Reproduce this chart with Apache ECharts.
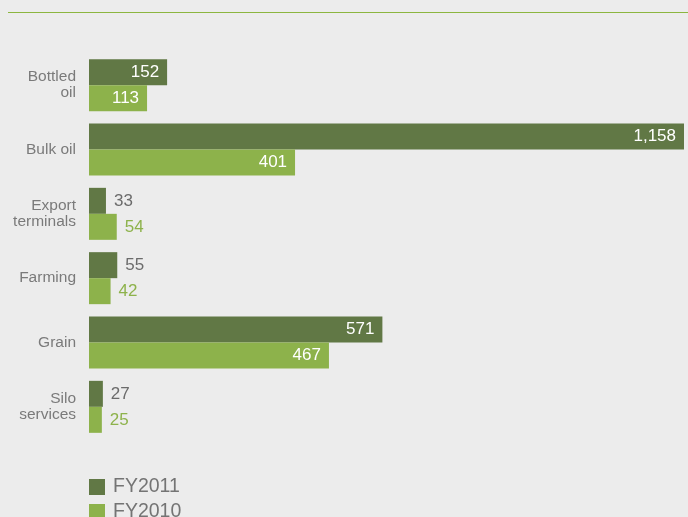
<!DOCTYPE html>
<html>
<head>
<meta charset="utf-8">
<script src="https://cdn.jsdelivr.net/npm/echarts@6/dist/echarts.min.js"></script>
<style>
  html, body { margin: 0; padding: 0; background: #ececec; }
  #chart { width: 688px; height: 517px; }
</style>
</head>
<body>
<div id="chart"></div>
<script>
// Segment names (line breaks as shown on the axis)
const categories = ['Bottled\noil', 'Bulk oil', 'Export\nterminals', 'Farming', 'Grain', 'Silo\nservices'];
// Values per segment
const fy2011 = [152, 1158, 33, 55, 571, 27];
const fy2010 = [113, 401, 54, 42, 467, 25];
const seriesNames = ['FY2011', 'FY2010'];

const DARK = '#617845';
const LIGHT = '#8db24b';
const FONT = '"Liberation Sans", Arial, Helvetica, sans-serif';

function fmt(v) {
  return v.toLocaleString('en-US');
}

// Wide bars carry their value inside in white; narrow ones get it beside the bar.
function withLabels(values, outsideColor) {
  return values.map(v => {
    const inside = v >= 100;
    return {
      value: v,
      label: {
        show: true,
        position: inside ? 'insideRight' : 'right',
        distance: 8,
        color: inside ? '#ffffff' : outsideColor,
        fontSize: 17,
        fontFamily: FONT,
        formatter: p => fmt(p.value)
      }
    };
  });
}

// One legend block per series, stacked under the plot
function legendItem(name, top) {
  return {
    orient: 'vertical',
    left: 89,
    top: top,
    icon: 'rect',
    itemWidth: 16,
    itemHeight: 16,
    itemGap: 0,
    padding: 0,
    textStyle: { fontSize: 19.5, color: '#747474', fontFamily: FONT, padding: [0, 0, 0, 3] },
    data: [name]
  };
}

const chart = echarts.init(document.getElementById('chart'), null, { renderer: 'canvas' });

chart.setOption({
  backgroundColor: '#ececec',
  animation: false,
  graphic: [{
    type: 'line',
    shape: { x1: 8, y1: 12.5, x2: 688, y2: 12.5 },
    style: { stroke: '#8cb640', lineWidth: 1 }
  }],
  grid: { left: 89, top: 53, width: 595, height: 386, containLabel: false },
  legend: [legendItem(seriesNames[0], 477), legendItem(seriesNames[1], 502)],
  xAxis: {
    type: 'value',
    min: 0,
    max: 1158,
    show: false
  },
  yAxis: {
    type: 'category',
    inverse: true,
    data: categories,
    axisLine: { show: false },
    axisTick: { show: false },
    splitLine: { show: false },
    axisLabel: {
      margin: 13,
      fontSize: 15.5,
      lineHeight: 16,
      color: '#7a7a7a',
      fontFamily: FONT,
      align: 'right'
    }
  },
  series: [
    {
      name: seriesNames[0],
      type: 'bar',
      barWidth: 26,
      barGap: '0%',
      itemStyle: { color: DARK },
      data: withLabels(fy2011, '#6b6b6b')
    },
    {
      name: seriesNames[1],
      type: 'bar',
      barWidth: 26,
      barGap: '0%',
      itemStyle: { color: LIGHT },
      data: withLabels(fy2010, LIGHT)
    }
  ]
});
</script>
</body>
</html>
